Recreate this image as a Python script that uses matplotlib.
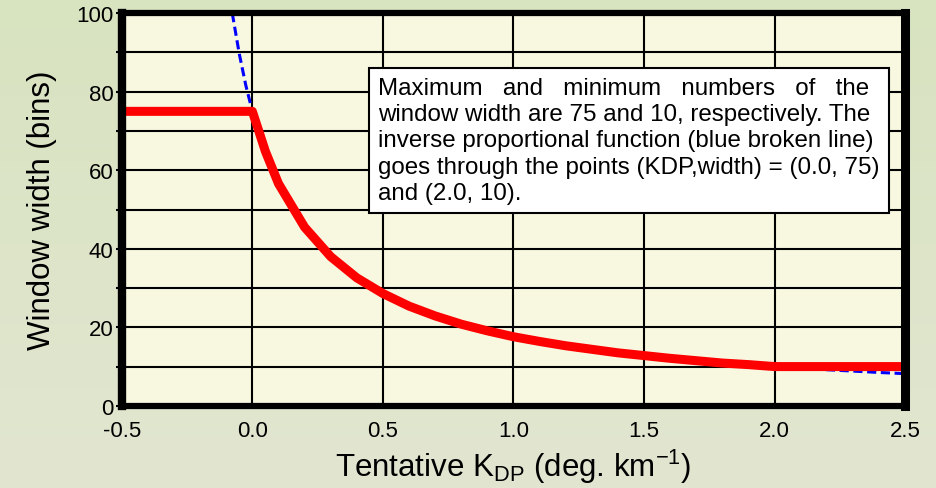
import numpy as np
import matplotlib.pyplot as plt

plt.rcParams['font.family'] = ['Liberation Sans', 'DejaVu Sans']

# adopted window width (bins) vs tentative KDP
kdp_red = [-0.5, 0.0, 0.05, 0.1, 0.2, 0.3, 0.4, 0.5, 0.6, 0.7, 0.8, 0.9, 1.0,
           1.1, 1.2, 1.3, 1.4, 1.5, 1.6, 1.7, 1.8, 1.9, 2.0, 2.5]
width_red = [75, 75, 64.8, 56.6, 45.5, 38.0, 32.6, 28.6, 25.4, 22.9, 20.8, 19.1, 17.6,
             16.4, 15.3, 14.4, 13.5, 12.8, 12.1, 11.5, 10.9, 10.5, 10, 10]

# inverse proportional curve through (0.0, 75) and (2.0, 10)
kdp_blue = [-0.077, -0.05, -0.025, 0.0, 0.05, 0.1, 0.2, 0.3, 0.4, 0.5, 0.6, 0.7, 0.8,
            0.9, 1.0, 1.2, 1.4, 1.6, 1.8, 2.0, 2.1, 2.2, 2.3, 2.4, 2.5]
width_blue = [100, 89.6, 81.6, 75, 64.8, 56.6, 45.5, 38.0, 32.6, 28.6, 25.4, 22.9, 20.8,
              19.1, 17.6, 15.3, 13.5, 12.1, 10.9, 10.0, 9.6, 9.2, 8.85, 8.5, 8.2]

fig = plt.figure(figsize=(9.37, 4.89), dpi=100)

# soft green backdrop, a little darker at the top
bg = fig.add_axes([0, 0, 1, 1], zorder=-10)
grad = np.linspace(0, 1, 256)[:, None]
top = np.array([0xd8, 0xe3, 0xc0]) / 255
bot = np.array([0xe2, 0xe6, 0xd1]) / 255
bg.imshow(top + (bot - top) * grad[..., None], aspect='auto', extent=[0, 1, 0, 1])
bg.axis('off')

ax = fig.add_axes([0.130, 0.168, 0.836, 0.803])
ax.set_facecolor('#f8f8e1')

ax.plot(kdp_blue, width_blue, color='#0000ff', lw=2.2, ls=(0, (3, 1.5)), zorder=3)
ax.plot(kdp_red, width_red, color='#ff0000', lw=6.5, solid_joinstyle='round', zorder=4)

ax.set_xlim(-0.5, 2.5)
ax.set_ylim(0, 100)
ax.set_xticks([-0.5, 0.0, 0.5, 1.0, 1.5, 2.0, 2.5])
ax.set_xticklabels(['-0.5', '0.0', '0.5', '1.0', '1.5', '2.0', '2.5'])
ax.set_yticks(range(0, 101, 20))
ax.set_yticks(range(10, 100, 20), minor=True)
ax.grid(True, which='both', color='black', lw=1.5, zorder=1)
ax.tick_params(which='both', length=4, width=1.5, labelsize=16, pad=2)
ax.tick_params(axis='x', length=0, pad=10)
for s in ax.spines.values():
    s.set_linewidth(4.5)
    s.set_zorder(5)
ax.spines['left'].set_linewidth(6)
ax.spines['right'].set_linewidth(6.5)

ax.set_xlabel('Tentative K$_{\\mathregular{DP}}$ (deg. km$^{\\mathregular{-1}}$)', fontsize=22.5, labelpad=4)
ax.set_ylabel('Window width (bins)', fontsize=22.5, labelpad=14)

note = ('Maximum   and   minimum   numbers   of   the\n'
        'window width are 75 and 10, respectively. The\n'
        'inverse proportional function (blue broken line)\n'
        'goes through the points (KDP,width) = (0.0, 75)\n'
        'and (2.0, 10).')
ax.text(0.327, 0.838, note, transform=ax.transAxes, fontsize=17.4, va='top', ha='left',
        linespacing=1.25, zorder=6,
        bbox=dict(boxstyle='square,pad=0.38', facecolor='white', edgecolor='black', lw=1.5))

fig.savefig('out.png', dpi=100)
